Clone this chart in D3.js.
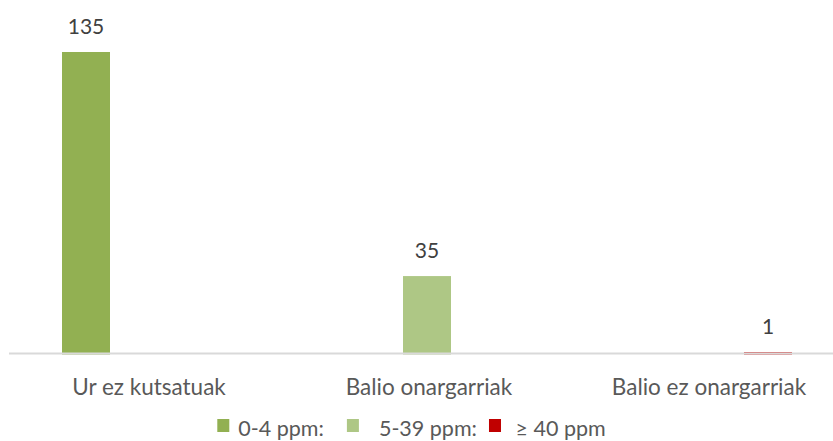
<!DOCTYPE html>
<html>
<head>
<meta charset="utf-8">
<script src="https://cdn.jsdelivr.net/npm/d3@7"></script>
<style>
  html, body { margin: 0; padding: 0; background: #fff; }
  svg { display: block; }
  text { font-family: Lato, "Open Sans", sans-serif; white-space: pre; }
</style>
</head>
<body>
<svg id="chart" width="833" height="441"></svg>
<script>
const categories = ["Ur ez kutsatuak", "Balio onargarriak", "Balio ez onargarriak"];
const series = ["0-4 ppm:", "5-39 ppm:", "≥ 40 ppm"];
const legendLabels = ["0-4 ppm:  ", "  5-39 ppm:", " ≥ 40 ppm"];
const seriesColors = ["#92b052", "#aec785", "#c00000"];
// values[seriesIndex][categoryIndex]; null = no bar
const values0to4 = [135, null, null];
const values5to39 = [null, 35, null];
const values40plus = [null, null, 1];
const seriesValues = [values0to4, values5to39, values40plus];

const svg = d3.select("#chart");
const W = 833, H = 441;
const baseline = 354.5;

const x0 = d3.scaleBand().domain(categories).range([7, 847]).paddingInner(0).paddingOuter(0);
const groupW = 183;
const x1 = d3.scaleBand().domain(series).range([0, groupW]).paddingInner(13/61).paddingOuter(13/122);
const y = d3.scaleLinear().domain([0, 135]).range([baseline, 52]);

const bars = [];
series.forEach((s, si) => {
  categories.forEach((c, ci) => {
    const v = seriesValues[si][ci];
    if (v != null) bars.push({ s, si, c, v });
  });
});

const gBars = svg.append("g");
gBars.selectAll("rect").data(bars).enter().append("rect")
  .attr("x", d => x0(d.c) + (x0.bandwidth() - groupW) / 2 + x1(d.s))
  .attr("y", d => y(d.v))
  .attr("width", x1.bandwidth())
  .attr("height", d => baseline - y(d.v))
  .attr("fill", d => seriesColors[d.si]);

// axis line
svg.append("line")
  .attr("x1", 9).attr("x2", W)
  .attr("y1", 353.5).attr("y2", 353.5)
  .attr("stroke", "#d9d9d9").attr("stroke-width", 2);

// value labels
svg.append("g").selectAll("text").data(bars).enter().append("text")
  .attr("x", d => x0(d.c) + (x0.bandwidth() - groupW) / 2 + x1(d.s) + x1.bandwidth() / 2)
  .attr("y", d => y(d.v) - 18)
  .attr("text-anchor", "middle")
  .attr("font-size", 21)
  .attr("fill", "#404040")
  .text(d => d.v);

// category labels
svg.append("g").selectAll("text").data(categories).enter().append("text")
  .attr("x", d => x0(d) + x0.bandwidth() / 2 + 2)
  .attr("y", 395)
  .attr("text-anchor", "middle")
  .attr("font-size", 22.5)
  .attr("fill", "#595959")
  .text(d => d);

// legend
const lg = svg.append("g");
const items = legendLabels.map((t, i) => {
  const g = lg.append("g");
  g.append("rect").attr("x", 0).attr("y", 419).attr("width", 12).attr("height", 13).attr("fill", seriesColors[i]);
  const tx = g.append("text").attr("x", 21).attr("y", 435.5)
    .attr("font-size", 21.5).attr("fill", "#595959").text(t);
  const w = 21 + tx.node().getComputedTextLength();
  return { g, w };
});
const gap = 12;
const total = d3.sum(items, d => d.w) + gap * (items.length - 1);
let cx = 411.5 - total / 2;
items.forEach(it => { it.g.attr("transform", `translate(${cx},0)`); cx += it.w + gap; });
</script>
</body>
</html>
